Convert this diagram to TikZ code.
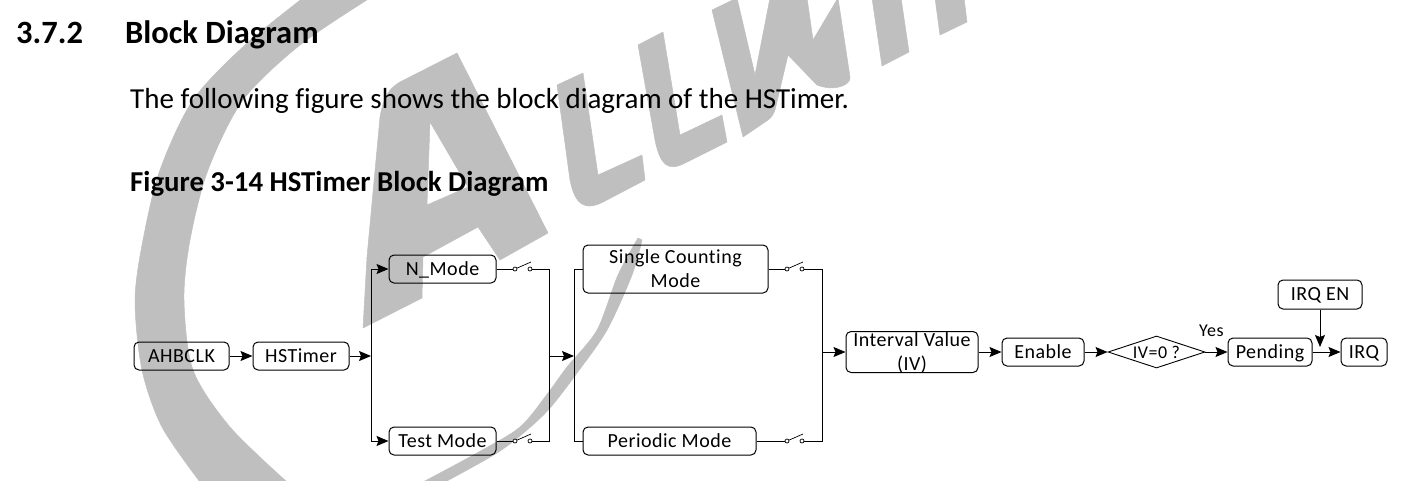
\documentclass[tikz,border=0pt]{standalone}
\usepackage{fontspec}
\setmainfont[Ligatures=NoCommon]{Carlito}
\newfontfamily\dfont[LetterSpace=2.5,Ligatures=NoCommon]{Carlito}
\usetikzlibrary{shapes.geometric,arrows.meta}
\definecolor{wm}{HTML}{BFBFBF}
\newcommand{\strutb}{\rule[-4pt]{0pt}{20pt}}
\tikzset{
  wmark/.style={fill=wm,draw=wm,line width=0.5pt,line join=round},
  boxm/.style={draw,line width=1pt,rounded corners=5pt,inner sep=0pt,align=center,font=\dfont\fontsize{20}{24}\selectfont},
  boxn/.style={boxm,text height=16pt,text depth=4pt},
  decis/.style={draw,line width=0.9pt,diamond,aspect=3,inner sep=0pt,minimum width=97pt,minimum height=32pt,font=\dfont\fontsize{18}{20}\selectfont},
  link/.style={line width=1pt},
  arrowlink/.style={line width=1pt,-{Stealth[length=12pt,width=10pt,inset=2pt]}},
  swpt/.style={draw,circle,fill=white,line width=0.7pt,inner sep=0pt,minimum size=4pt},
  blade/.style={line width=0.7pt},
  head/.style={anchor=base west,inner sep=0pt,font=\bfseries\fontsize{32.5}{36}\selectfont},
  ftitle/.style={anchor=base west,inner sep=0pt,font=\bfseries\fontsize{28.8}{32}\selectfont},
  bodyt/.style={anchor=base west,inner sep=0pt,font=\fontsize{29}{32}\selectfont},
  smallt/.style={anchor=base west,inner sep=0pt,font=\dfont\fontsize{18}{20}\selectfont}
}
\begin{document}
\begin{tikzpicture}[x=1pt,y=-1pt]
\useasboundingbox (0,0) rectangle (1403,480);
\begin{scope}
\clip (0,0) rectangle (1403,480);
% C ring
\fill[wmark] plot[smooth] coordinates {(303,-2) (245,45) (193,100) (160,170) (143,240) (135,300) (142,370) (162,427) (200,482)}
  -- plot[smooth] coordinates {(287,482) (230,427) (193,370) (184,300) (190,240) (208,170) (243,100) (300,45) (370,-2)} -- cycle;
% swoosh
\fill[wmark] plot[smooth] coordinates {(423,482) (477,453) (520,427) (548,393) (567,367) (597,330) (618,275) (638,238)}
  -- plot[smooth] coordinates {(642,240) (632,275) (607,330) (577,373) (550,408) (527,430) (497,453) (445,482)} -- cycle;
% A
\fill[wmark,even odd rule] (457,53) -- (548,233) -- (500,260) -- (478,227) -- (423,257) -- (422,298) -- (363,328) -- (367,257) -- (380,117) .. controls (384,95) and (390,88) .. (400,82) -- cycle
  (430,122) -- (427,205) -- (468,187) -- cycle;
% L
\fill[wmark] (557,85) -- (583,73) -- (598,175) -- (642,155) -- (645,180) -- (605,201) .. controls (585,212) and (575,205) .. (570,180) -- cycle;
% L
\fill[wmark] (638,45) -- (663,32) -- (680,135) -- (722,115) -- (727,142) -- (685,163) .. controls (668,172) and (660,165) .. (655,140) -- cycle;
% W
\fill[wmark] (712,10) -- (737,-2) -- (755,75) -- (770,-2) -- (807,-2) -- (813,40) -- (838,-2) -- (850,77) .. controls (851,85) and (835,92) .. (817,85) -- (788,55) -- (775,110) .. controls (773,115) and (771,118) .. (768,120) -- (743,137) -- cycle;
% I
\fill[wmark] (872,-2) -- (882,66) -- (909,52) -- (901,-2) -- cycle;
\fill[wmark] (935,-2) -- (940,35) -- (967,22) -- (964,-2) -- cycle;
\end{scope}
% texts
\node[head] (secnum) at (16,43) {3.7.2};
\node[head] (sectitle) at (125,43) {Block Diagram};
\node[bodyt] (intro) at (130,108) {The following figure shows the block diagram of the HSTimer.};
\node[ftitle] (figt) at (130,191) {Figure 3-14 HSTimer Block Diagram};
% boxes
\node[boxn,minimum width=95pt,minimum height=28pt] (ahb) at (181.5,356) {AHBCLK};
\node[boxn,minimum width=96pt,minimum height=28pt] (hst) at (301,356) {HSTimer};
\node[boxn,minimum width=107pt,minimum height=28pt] (nmode) at (442.5,269) {N\_Mode};
\node[boxn,minimum width=107pt,minimum height=28pt] (tmode) at (442.5,441) {Test Mode};
\node[boxm,minimum width=185pt,minimum height=48pt] (single) at (675.5,269) {Single Counting\strutb\\Mode\strutb};
\node[boxn,minimum width=173pt,minimum height=28pt] (period) at (669.5,441) {Periodic Mode};
\node[boxm,inner ysep=-2pt,minimum width=132pt,minimum height=41pt] (iv) at (912,352) {Interval Value\strutb\\(IV)\strutb};
\node[boxn,minimum width=82pt,minimum height=28pt] (en) at (1043,352) {Enable};
\node[decis] (dec) at (1156.5,352) {IV=0 ?};
\node[boxn,minimum width=84pt,minimum height=28pt] (pend) at (1270,352) {Pending};
\node[boxn,minimum width=46pt,minimum height=28pt] (irq) at (1364,352) {IRQ};
\node[boxn,minimum width=84pt,minimum height=29pt] (irqen) at (1320,294.5) {IRQ EN};
\node[smallt] (yes) at (1199,336) {Yes};
% junctions
\coordinate (busa) at (371,356);
\coordinate (busb) at (549,356);
\coordinate (busc) at (574,356);
\coordinate (busd) at (822,352);
\coordinate (irqj) at (1320,347);
% switches
\node[swpt] (s1a) at (515,269) {};
\node[swpt] (s1b) at (530,269) {};
\node[swpt] (s2a) at (515,441) {};
\node[swpt] (s2b) at (530,441) {};
\node[swpt] (s3a) at (787,269) {};
\node[swpt] (s3b) at (802,269) {};
\node[swpt] (s4a) at (787,441) {};
\node[swpt] (s4b) at (802,441) {};
\foreach \s in {s1a,s2a,s3a,s4a}{\draw[blade] (\s) -- ++(16,-7);}
% connectors
\draw[arrowlink] (ahb) -- (hst);
\draw[arrowlink] (hst) -- (busa);
\draw[arrowlink] (busa) |- (nmode);
\draw[arrowlink] (busa) |- (tmode);
\draw[link] (nmode) -- (s1a);
\draw[link] (tmode) -- (s2a);
\draw[link] (s1b) -| (busb);
\draw[link] (s2b) -| (busb);
\draw[arrowlink] (busb) -- (busc);
\draw[link] (busc) |- (single);
\draw[link] (busc) |- (period);
\draw[link] (single) -- (s3a);
\draw[link] (period) -- (s4a);
\draw[link] (s3b) -| (busd);
\draw[link] (s4b) -| (busd);
\draw[arrowlink] (busd) -- (iv);
\draw[arrowlink] (iv) -- (en);
\draw[arrowlink] (en) -- (dec);
\draw[arrowlink] (dec) -- (pend);
\draw[arrowlink] (pend) -- (irq);
\draw[arrowlink] (irqen) -- (irqj);
\end{tikzpicture}
\end{document}
